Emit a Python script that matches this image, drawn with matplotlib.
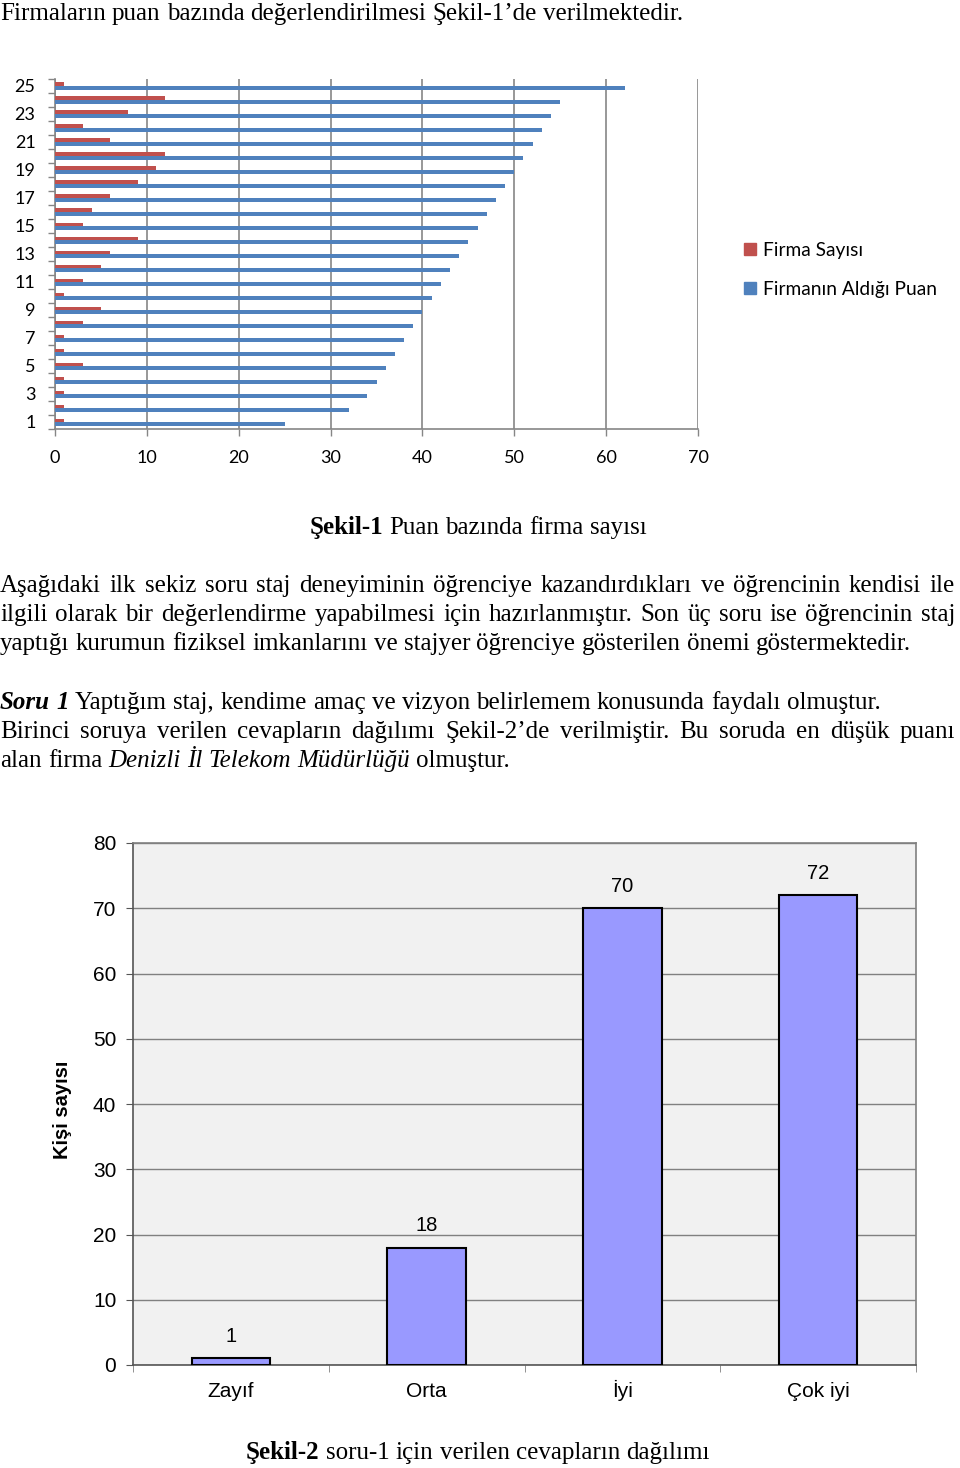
import matplotlib
matplotlib.use("Agg")
import matplotlib.pyplot as plt
from matplotlib.patches import Patch
import numpy as np

# ---------------- data ----------------
categories = list(range(1, 26))
firma_sayisi = [1, 1, 1, 1, 3, 1, 1, 3, 5, 1, 3, 5, 6, 9, 3, 4, 6, 9, 11, 12, 6, 3, 8, 12, 1]
firma_puan = [25, 32, 34, 35, 36, 37, 38, 39, 40, 41, 42, 43, 44, 45, 46, 47, 48, 49, 50, 51, 52, 53, 54, 55, 62]
series_names = ["Firma Sayısı", "Firmanın Aldığı Puan"]

answer_labels = ["Zayıf", "Orta", "İyi", "Çok iyi"]
answer_counts = [1, 18, 70, 72]

W, H = 960, 1468
fig = plt.figure(figsize=(W / 100, H / 100), dpi=100)
renderer = fig.canvas.get_renderer()

def fx(x):
    return x / W

def fy(y):
    return 1 - y / H

SERIF = "Liberation Serif"
FS = 18.0

def measure(s, **kw):
    t = fig.text(0, 0, s, **kw)
    w = t.get_window_extent(renderer).width
    t.remove()
    return w

def draw_line(segments, ybase, mode="left", x0=0, x1=955, size=FS):
    words = []
    for text, weight, style in segments:
        for wd in text.split():
            words.append((wd, weight, style))
    props = [dict(fontfamily=SERIF, fontsize=size, fontweight=wt, fontstyle=st) for _, wt, st in words]
    widths = [measure(w[0], **p) for w, p in zip(words, props)]
    space = measure("a a", fontfamily=SERIF, fontsize=size) - measure("aa", fontfamily=SERIF, fontsize=size)
    total = sum(widths) + space * (len(words) - 1)
    if mode == "justify":
        gap = (x1 - x0 - sum(widths)) / (len(words) - 1)
        x = x0
    elif mode == "center":
        gap = space
        x = (x0 + x1) / 2 - total / 2
    else:
        gap = space
        x = x0
    for (wd, _, _), p, w in zip(words, props, widths):
        fig.text(fx(x), fy(ybase), wd, va="baseline", ha="left", **p)
        x += w + gap

def seg(t, w="normal", s="normal"):
    return (t, w, s)

# ---------------- paragraph text ----------------
draw_line([seg("Firmaların puan bazında değerlendirilmesi Şekil-1’de verilmektedir.")], 20)

draw_line([seg("Aşağıdaki ilk sekiz soru staj deneyiminin öğrenciye kazandırdıkları ve öğrencinin kendisi ile")], 592, "justify")
draw_line([seg("ilgili olarak bir değerlendirme yapabilmesi için hazırlanmıştır. Son üç soru ise öğrencinin staj")], 621, "justify")
draw_line([seg("yaptığı kurumun fiziksel imkanlarını ve stajyer öğrenciye gösterilen önemi göstermektedir.")], 650)

draw_line([seg("Soru 1", "bold", "italic"), seg("Yaptığım staj, kendime amaç ve vizyon belirlemem konusunda faydalı olmuştur.")], 709)
draw_line([seg("Birinci soruya verilen cevapların dağılımı Şekil-2’de verilmiştir. Bu soruda en düşük puanı")], 738, "justify")
draw_line([seg("alan firma"), seg("Denizli İl Telekom Müdürlüğü", "normal", "italic"), seg("olmuştur.")], 767)

draw_line([seg("Şekil-1", "bold"), seg("Puan bazında firma sayısı")], 534, "center", 0, 956)
draw_line([seg("Şekil-2", "bold"), seg("soru-1 için verilen cevapların dağılımı")], 1459, "center", 0, 956)

# ---------------- chart 1 ----------------
RED = "#c0504d"
BLUE = "#4f81bd"
GRID = "#868686"
SANS1 = "Lato"

ax1 = fig.add_axes([fx(55), fy(429), (698 - 55) / W, (429 - 79) / H])
cats = np.array(categories)
ax1.barh(cats + 0.12, firma_sayisi, height=0.26, color=RED, zorder=3, label=series_names[0])
ax1.barh(cats - 0.13, firma_puan, height=0.26, color=BLUE, zorder=3, label=series_names[1])
ax1.set_xlim(0, 70)
ax1.set_ylim(0.5, 25.5)
ax1.set_xticks(range(0, 71, 10))
ax1.set_yticks(range(1, 26, 2))
ax1.set_yticks(np.arange(0.5, 25.6, 1), minor=True)
ax1.xaxis.grid(True, color=GRID, lw=1.2, zorder=0)
for s in ["top", "right"]:
    ax1.spines[s].set_visible(False)
for s in ["left", "bottom"]:
    ax1.spines[s].set_color(GRID)
    ax1.spines[s].set_linewidth(1.2)
ax1.tick_params(axis="y", which="major", length=0, pad=14, labelsize=13, labelfontfamily=SANS1)
ax1.tick_params(axis="y", which="minor", length=5, color=GRID, width=1)
ax1.tick_params(axis="x", length=5, color=GRID, width=1, pad=10, labelsize=13, labelfontfamily=SANS1)

fig.legend(handles=[Patch(color=RED, label=series_names[0]), Patch(color=BLUE, label=series_names[1])],
           loc="center left", bbox_to_anchor=(fx(727), fy(270)), frameon=False,
           prop={"family": SANS1, "size": 13.8}, handlelength=0.6, handleheight=0.6,
           handletextpad=0.4, labelspacing=1.15)

# ---------------- chart 2 ----------------
SANS2 = "Liberation Sans"
ax2 = fig.add_axes([fx(133), fy(1365), (916 - 133) / W, (1365 - 843) / H])
ax2.set_facecolor("#f1f1f1")
xpos = np.arange(len(answer_labels))
ax2.bar(xpos, answer_counts, width=0.4, color="#9999ff", edgecolor="black", linewidth=1.5, zorder=3)
for x, v in zip(xpos, answer_counts):
    ax2.annotate(str(v), (x, v), xytext=(0, 9), textcoords="offset points", ha="center", va="bottom",
                 fontsize=14.5, fontfamily=SANS2)
ax2.set_xlim(-0.5, 3.5)
ax2.set_ylim(0, 80)
ax2.set_yticks(range(0, 81, 10))
ax2.set_xticks(xpos)
ax2.set_xticklabels(answer_labels)
ax2.set_xticks(np.arange(-0.5, 3.6, 1), minor=True)
ax2.yaxis.grid(True, color="#808080", lw=1, zorder=0)
for s in ax2.spines.values():
    s.set_color("#808080")
    s.set_linewidth(1.2)
ax2.spines["left"].set_color("#555555")
ax2.spines["bottom"].set_color("#555555")
ax2.tick_params(axis="y", length=5, color="#555555", pad=7, labelsize=15, labelfontfamily=SANS2)
ax2.tick_params(axis="x", which="major", length=0, pad=23, labelsize=15, labelfontfamily=SANS2)
ax2.tick_params(axis="x", which="minor", length=5, color="#808080")
for lab in ax2.get_xticklabels():
    lab.set_verticalalignment("baseline")
fig.text(fx(62), fy(1110), "Kişi sayısı", rotation=90, ha="center", va="center",
         fontsize=14.5, fontweight="bold", fontfamily=SANS2)

fig.savefig("out.png", dpi=100)
